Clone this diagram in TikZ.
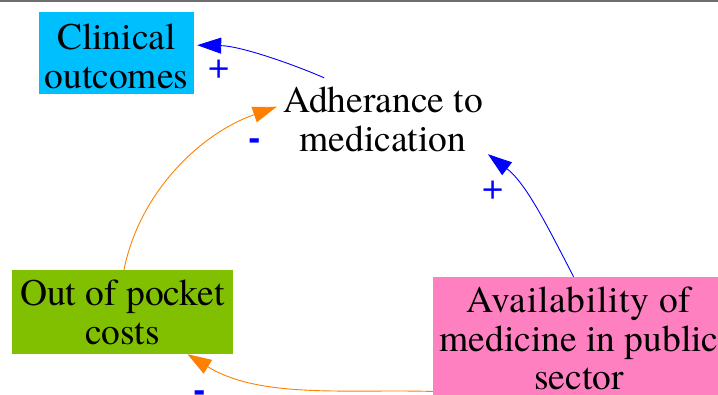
\documentclass[tikz,border=0pt]{standalone}
\usepackage{fontspec}
\setmainfont{texgyretermes}[Extension=.otf, UprightFont=*-regular, BoldFont=*-bold, ItalicFont=*-italic, BoldItalicFont=*-bolditalic]
\usetikzlibrary{arrows.meta}
\definecolor{clinblue}{RGB}{0,191,255}
\definecolor{oopgreen}{RGB}{128,192,0}
\definecolor{availpink}{RGB}{255,128,192}
\definecolor{arrorange}{RGB}{255,128,0}
\definecolor{linkblue}{RGB}{0,0,255}
\definecolor{topgray}{RGB}{110,110,110}
\newcommand\lnstrut[1]{\rule{0pt}{#1pt}}
\begin{document}
\begin{tikzpicture}[x=1pt,y=-1pt,
  varbox/.style={inner sep=0pt, align=center,
    font=\fontsize{37.5pt}{38.5pt}\selectfont},
  polarity/.style={inner sep=0pt, text=linkblue,
    font=\fontsize{37.5pt}{38.5pt}\selectfont},
  bluelink/.style={draw=linkblue, line width=0.9pt,
    -{Triangle[length=24pt,width=16pt]}},
  orangelink/.style={draw=arrorange, line width=0.9pt,
    -{Triangle[length=24pt,width=16pt]}}]
\useasboundingbox (0,0) rectangle (718,394);
\clip (0,0) rectangle (718,394);
\fill[topgray] (0,0) rectangle (718,2);

\node[varbox, fill=clinblue, minimum width=155pt, minimum height=82pt]
  (clin) at (116.5,53.3) {\lnstrut{31.9}Clinical\\outcomes};
\node[varbox, minimum width=212pt, minimum height=76pt]
  (adh) at (383,116) {\lnstrut{32.5}Adherance to\\medication};
\node[varbox, fill=oopgreen, minimum width=221pt, minimum height=84pt]
  (oop) at (122.5,312) {\lnstrut{26.5}Out of pocket\\costs};
\node[varbox, fill=availpink, minimum width=292pt, minimum height=122.5pt]
  (avail) at (579,338.25) {\lnstrut{26.5}{\addfontfeature{LetterSpace=1.8}Availability of}\\medicine in public\\sector};

% links
\draw[bluelink, shorten >=3pt] (adh.147.65) .. controls (290,63) and (240,46) .. (clin.6.84);
\draw[orangelink] (oop.88) .. controls (139.7,191.5) and (201,133.3) .. (adh.175.7);
\draw[bluelink] (avail.95.6) .. controls (550,231.5) and (527,184) .. (adh.340.6);
\draw[orangelink] (avail.200.56) .. controls (349,389) and (260,399) .. (oop.327.7);

% polarities
\node[polarity] (p1) at (219,69) {+};
\node[polarity, anchor=base, font=\fontsize{37.5pt}{38.5pt}\selectfont\bfseries] (p2) at (255,149.6) {-};
\node[polarity] (p3) at (493,190) {+};
\node[polarity, anchor=base, font=\fontsize{37.5pt}{38.5pt}\selectfont\bfseries] (p4) at (200,401) {-};
\end{tikzpicture}
\end{document}
